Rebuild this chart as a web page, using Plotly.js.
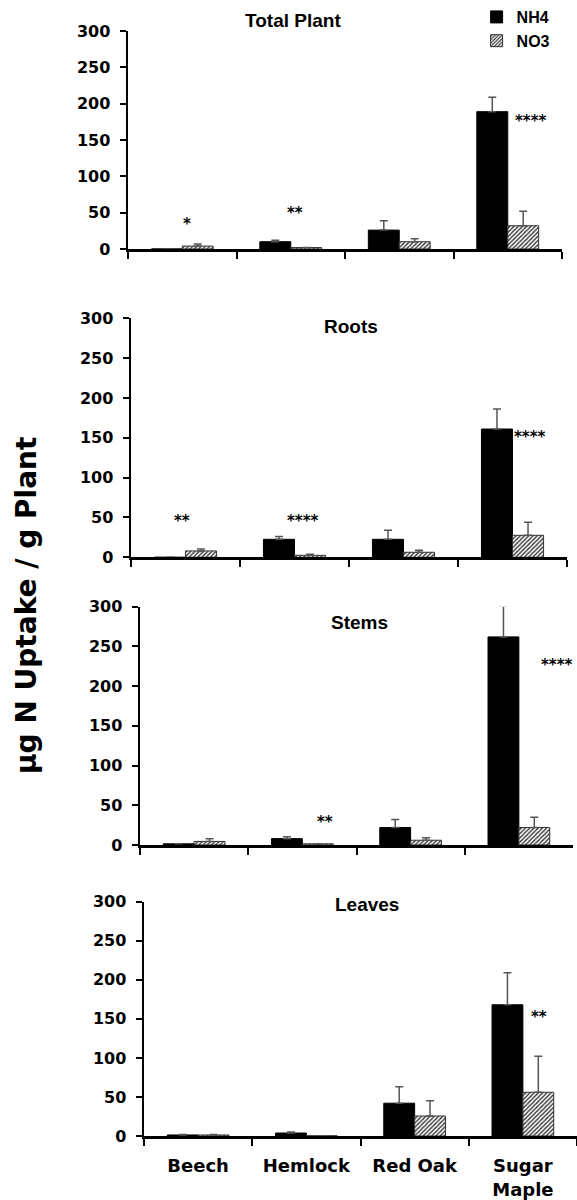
<!DOCTYPE html>
<html>
<head>
<meta charset="utf-8">
<script src="https://cdn.plot.ly/plotly-3.0.1.min.js"></script>
<style>html,body{margin:0;padding:0;background:#fff;}#chart{width:577px;height:1200px;}</style>
</head>
<body>
<div id="chart"></div>
<script>
// ---- data ----
const species = ['Beech', 'Hemlock', 'Red Oak', 'Sugar<br>Maple'];
const panelTitles = ['Total Plant', 'Roots', 'Stems', 'Leaves'];
const seriesNames = ['NH4', 'NO3'];

const totalNH4 = [0, 10, 26, 189];
const totalNH4Err = [0, 2, 13, 20];
const totalNO3 = [4, 2, 10, 32];
const totalNO3Err = [3, 0, 4, 20];

const rootsNH4 = [0, 22.6, 22.6, 161];
const rootsNH4Err = [0, 3.5, 11.5, 25];
const rootsNO3 = [8, 2.5, 6.3, 27.6];
const rootsNO3Err = [2.5, 1.3, 2.7, 16.5];

const stemsNH4 = [1.5, 8, 22, 262];
const stemsNH4Err = [0, 2.5, 10, 39];
const stemsNO3 = [4.5, 1.5, 6, 22];
const stemsNO3Err = [3.5, 0, 3, 13];

const leavesNH4 = [1.3, 3.8, 42, 168];
const leavesNH4Err = [0.5, 1.2, 21, 41];
const leavesNO3 = [1.3, 0.3, 25.6, 56];
const leavesNO3Err = [0.5, 0, 19.5, 46];

// significance labels
const sigPanel = [0, 0, 0, 1, 1, 1, 2, 2, 3];
const sigX = [0.04, 1.04, 3.21, -0.03, 1.08, 3.16, 1.21, 3.35, 3.15];
const sigY = [35, 50, 176, 45.5, 45.5, 151, 29, 226, 152];
const sigText = ['*', '**', '****', '**', '****', '****', '**', '****', '**'];

// ---- layout geometry ----
const W = 577, H = 1200;
const xPix = [[128, 562], [131, 567], [140, 573], [144, 577]];
const yPix = [[31, 249], [318.3, 557.3], [606.7, 845], [901.7, 1136]];
const titlePos = [[293, 21], [351, 327], [359, 622], [367, 904]];

const nh4 = [totalNH4, rootsNH4, stemsNH4, leavesNH4];
const nh4e = [totalNH4Err, rootsNH4Err, stemsNH4Err, leavesNH4Err];
const no3 = [totalNO3, rootsNO3, stemsNO3, leavesNO3];
const no3e = [totalNO3Err, rootsNO3Err, stemsNO3Err, leavesNO3Err];

const traces = [];
const layout = {
  width: W, height: H,
  margin: {l: 0, r: 0, t: 0, b: 0},
  paper_bgcolor: '#fff', plot_bgcolor: '#fff',
  barmode: 'group', bargap: 0.43, bargroupgap: 0,
  showlegend: true,
  legend: {
    x: 0.826, y: 1.0, xanchor: 'left', yanchor: 'top',
    font: {family: 'Liberation Sans, Arial, sans-serif', size: 16, color: '#000', weight: 700},
    bgcolor: 'rgba(0,0,0,0)', itemwidth: 30, traceorder: 'normal'
  },
  annotations: [],
  font: {family: 'DejaVu Sans, sans-serif', color: '#000'}
};

for (let p = 0; p < 4; p++) {
  const xa = p === 0 ? 'x' : 'x' + (p + 1);
  const ya = p === 0 ? 'y' : 'y' + (p + 1);
  const zeros = [0, 0, 0, 0];
  traces.push({
    type: 'bar', x: species, y: nh4[p], name: seriesNames[0],
    xaxis: xa, yaxis: ya, showlegend: p === 0, cliponaxis: false,
    marker: {color: '#000', line: {color: '#000', width: 1}},
    error_y: {type: 'data', symmetric: false, array: nh4e[p], arrayminus: zeros,
      color: '#555', thickness: 1.5, width: 4}
  });
  traces.push({
    type: 'bar', x: species, y: no3[p], name: seriesNames[1],
    xaxis: xa, yaxis: ya, showlegend: p === 0, cliponaxis: false,
    marker: {color: '#fff', line: {color: '#333', width: 1},
      pattern: {shape: '/', fgcolor: '#333', bgcolor: '#fff', size: 3, solidity: 0.45}},
    error_y: {type: 'data', symmetric: false, array: no3e[p], arrayminus: zeros,
      color: '#555', thickness: 1.5, width: 4}
  });

  const xk = p === 0 ? 'xaxis' : 'xaxis' + (p + 1);
  const yk = p === 0 ? 'yaxis' : 'yaxis' + (p + 1);
  layout[xk] = {
    domain: [xPix[p][0] / W, xPix[p][1] / W],
    anchor: ya, type: 'category', range: [-0.5, 3.5],
    tickson: 'boundaries', ticks: 'outside', ticklen: 7, tickwidth: 2, tickcolor: '#000',
    showline: true, linecolor: '#000', linewidth: 2.5,
    showgrid: false, zeroline: false,
    showticklabels: p === 3, ticklabelstandoff: 12,
    tickfont: {family: 'DejaVu Sans, sans-serif', size: 18, color: '#000', weight: 700},
    automargin: false, fixedrange: true
  };
  layout[yk] = {
    domain: [1 - yPix[p][1] / H, 1 - yPix[p][0] / H],
    anchor: xa, range: [0, 300], dtick: 50, tick0: 0,
    ticks: 'outside', ticklen: 6, tickwidth: 2, tickcolor: '#000',
    showline: true, linecolor: '#000', linewidth: 2.5,
    showgrid: false, zeroline: false, ticklabelstandoff: 6,
    tickfont: {family: 'DejaVu Sans, sans-serif', size: 16, color: '#000', weight: 700},
    automargin: false, fixedrange: true
  };
  layout.annotations.push({
    xref: 'paper', yref: 'paper', x: titlePos[p][0] / W, y: 1 - titlePos[p][1] / H,
    xanchor: 'center', yanchor: 'middle', showarrow: false,
    text: '<b>' + panelTitles[p] + '</b>',
    font: {family: 'Liberation Sans, Arial, sans-serif', size: 19, color: '#000'}
  });
}

for (let i = 0; i < sigText.length; i++) {
  const p = sigPanel[i];
  layout.annotations.push({
    xref: p === 0 ? 'x' : 'x' + (p + 1), yref: p === 0 ? 'y' : 'y' + (p + 1),
    x: sigX[i], y: sigY[i], xanchor: 'center', yanchor: 'middle', showarrow: false,
    text: '<b>' + sigText[i] + '</b>',
    font: {family: 'DejaVu Sans, sans-serif', size: 15, color: '#000'}
  });
}

layout.annotations.push({
  xref: 'paper', yref: 'paper', x: 26 / W, y: 1 - 606 / H,
  xanchor: 'center', yanchor: 'middle', showarrow: false, textangle: -90,
  text: '<b>µg N Uptake / g Plant</b>',
  font: {family: 'DejaVu Sans, sans-serif', size: 28, color: '#000'}
});

Plotly.newPlot('chart', traces, layout, {displayModeBar: false, staticPlot: true});
</script>
</body>
</html>
